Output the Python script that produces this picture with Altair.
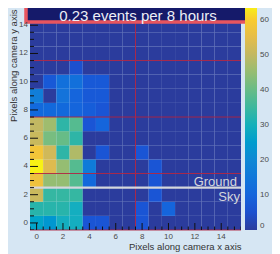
import altair as alt
import pandas as pd

# ---------------- data ----------------
x_pixels = list(range(16))
y_pixels = list(range(16))
# counts per camera row (y pixel), columns are x pixels 0..15
row_y00 = [27, 24, 29, 29, 6, 6, 0, 0, 6, 0, 0, 0, 0, 0, 0, 0]
row_y01 = [32, 32, 32, 29, 0, 0, 0, 0, 6, 0, 10, 0, 0, 0, 0, 0]
row_y02 = [51, 34, 34, 34, 0, 0, 0, 0, 0, 6, 0, 0, 0, 0, 0, 0]
row_y03 = [57, 45, 45, 38, 11, 0, 0, 0, 0, 6, 0, 0, 0, 0, 0, 0]
row_y04 = [64, 54, 45, 38, 16, 0, 0, 0, 0, 6, 0, 0, 0, 0, 0, 0]
row_y05 = [58, 52, 33, 48, 0, 6, 0, 0, 6, 0, 0, 0, 0, 0, 0, 0]
row_y06 = [51, 42, 40, 33, 0, 0, 0, 0, 0, 0, 0, 0, 0, 0, 0, 0]
row_y07 = [50, 46, 33, 38, 6, 10, 0, 0, 0, 0, 0, 0, 0, 0, 0, 0]
row_y08 = [11, 11, 11, 10, 8, 6, 0, 0, 0, 0, 0, 0, 0, 0, 0, 0]
row_y09 = [17, 0, 14, 10, 7, 7, 0, 0, 0, 0, 0, 0, 0, 0, 0, 0]
row_y10 = [0, 7, 13, 13, 7, 7, 0, 0, 0, 0, 0, 0, 0, 0, 0, 0]
row_y11 = [0, 0, 0, 5, 0, 0, 0, 0, 0, 0, 0, 0, 0, 0, 0, 0]
row_y12 = [0] * 16
row_y13 = [0] * 16
row_y14 = [0] * 16
row_y15 = [0] * 16
rows = [row_y00, row_y01, row_y02, row_y03, row_y04, row_y05, row_y06, row_y07,
        row_y08, row_y09, row_y10, row_y11, row_y12, row_y13, row_y14, row_y15]

tick_labels_x = [0, 2, 4, 6, 8, 10, 12, 14]
tick_labels_y = [0, 2, 4, 6, 8, 10, 12, 14]
minor_ticks = [v / 2 for v in range(-1, 32) if v % 4 != 0]
colorbar_labels = [0, 10, 20, 30, 40, 50, 60]
region_rows = [-0.5, 3.5, 7.5, 11.5]
region_cols = [7.5]
ground_sky_row = 2.5
title_text = "0.23 events per 8 hours"

# colour palette (ROOT bird-like)
c_stops = [0, 4, 6, 10, 14, 18, 22, 26, 29, 32, 35, 38, 42, 46, 50, 53, 56, 60, 62, 64.5]
c_colors = ["#2b3c9d", "#1d4cc8", "#1a55d5", "#1565dc", "#1473da", "#1582d7",
            "#118dd3", "#0ea0cc", "#14aec0", "#28b4ab", "#3cb89e", "#55bb90",
            "#78bd80", "#9fbc6e", "#c2b862", "#d8b955", "#ecbf42", "#f9cb2e",
            "#f8dc20", "#f8f812"]

cells_df = pd.DataFrame(
    [{"px": x, "py": y, "count": rows[y][x]} for y in y_pixels for x in x_pixels]
)

# ---------------- chart ----------------
W, H = 211, 222
FONT = "Liberation Sans"
LABEL_COLOR = "#4a4a4a"
xs = alt.Scale(domain=[-0.5, 15.5], nice=False, zero=False)
ys = alt.Scale(domain=[-0.5, 15.22], nice=False, zero=False)
cs = alt.Scale(domain=c_stops, range=c_colors)

axis_common = dict(
    ticks=False, domain=False, grid=False, labels=False,
    titleFont=FONT, titleFontSize=9.5, titleFontWeight="normal",
    titleColor="#333333",
)

cells = alt.Chart(cells_df).transform_calculate(
    x0="datum.px - 0.5", x1="datum.px + 0.5",
    y0="datum.py - 0.5", y1="datum.py + 0.5",
).mark_rect(clip=True, strokeWidth=0).encode(
    x=alt.X("x0:Q", scale=xs, title="Pixels along camera x axis", axis=alt.Axis(
        titleX=W, titleY=16, titleAlign="right", titleBaseline="middle",
        **axis_common)),
    x2="x1:Q",
    y=alt.Y("y0:Q", scale=ys, title="Pixels along camera y axis", axis=alt.Axis(
        titleAngle=270, titleAlign="right", titleBaseline="middle",
        titleX=-17, titleY=1, **axis_common)),
    y2="y1:Q",
    color=alt.Color("count:Q", scale=cs, legend=alt.Legend(
        type="gradient", orient="none", legendX=215, legendY=-4,
        direction="vertical", gradientLength=226, gradientThickness=12,
        values=colorbar_labels, title=None, labelFont=FONT, labelFontSize=8,
        labelColor=LABEL_COLOR, labelOffset=3, gradientStrokeWidth=0,
        labelOverlap=False)),
)

hlines = alt.Chart(pd.DataFrame({"v": region_rows})).mark_rule(
    color="#b0213f", strokeWidth=1, opacity=0.9).encode(
    y=alt.Y("v:Q", scale=ys))
vlines = alt.Chart(pd.DataFrame({"v": region_cols})).mark_rule(
    color="#b0213f", strokeWidth=1, opacity=0.9).encode(
    x=alt.X("v:Q", scale=xs))

ground = alt.Chart(pd.DataFrame({"v": [ground_sky_row]})).mark_rule(
    color="#d4d6dc", strokeWidth=2.2).encode(y=alt.Y("v:Q", scale=ys))
ground_txt = alt.Chart(pd.DataFrame({"v": [ground_sky_row]})).mark_text(
    text="Ground", align="right", baseline="alphabetic", dy=-2,
    font=FONT, fontSize=13, color="#d4d6dc").encode(
    x=alt.value(207), y=alt.Y("v:Q", scale=ys))
sky_txt = alt.Chart(pd.DataFrame({"v": [ground_sky_row]})).mark_text(
    text="Sky", align="right", baseline="alphabetic", dy=13,
    font=FONT, fontSize=13, color="#d4d6dc").encode(
    x=alt.value(210), y=alt.Y("v:Q", scale=ys))

# tick marks drawn inside the frame, ROOT style
major_y = alt.Chart(pd.DataFrame({"v": tick_labels_y})).mark_rule(
    color="#111111", strokeWidth=1).encode(
    y=alt.Y("v:Q", scale=ys), x=alt.value(0), x2=alt.value(8))
minor_y = alt.Chart(pd.DataFrame({"v": minor_ticks})).mark_rule(
    color="#111111", strokeWidth=1, clip=True).encode(
    y=alt.Y("v:Q", scale=ys), x=alt.value(0), x2=alt.value(4))
major_x = alt.Chart(pd.DataFrame({"v": tick_labels_x})).mark_rule(
    color="#111111", strokeWidth=1).encode(
    x=alt.X("v:Q", scale=xs), y=alt.value(H), y2=alt.value(H - 7))
minor_x = alt.Chart(pd.DataFrame({"v": minor_ticks})).mark_rule(
    color="#111111", strokeWidth=1, clip=True).encode(
    x=alt.X("v:Q", scale=xs), y=alt.value(H), y2=alt.value(H - 3.5))

# tick labels
xlab = alt.Chart(pd.DataFrame({"v": tick_labels_x})).mark_text(
    align="center", baseline="top", dy=3, font=FONT, fontSize=8,
    color=LABEL_COLOR).encode(
    x=alt.X("v:Q", scale=xs), y=alt.value(H), text=alt.Text("v:Q"))
ylab = alt.Chart(pd.DataFrame({"v": tick_labels_y})).mark_text(
    align="right", baseline="middle", dx=-2, font=FONT, fontSize=8,
    color=LABEL_COLOR).encode(
    y=alt.Y("v:Q", scale=ys), x=alt.value(0), text=alt.Text("v:Q"))

title_box = alt.Chart(pd.DataFrame({"t": [title_text]})).mark_rect(
    fill="#151a6a", stroke="#e8555f", strokeWidth=3.5).encode(
    x=alt.value(-4), x2=alt.value(220), y=alt.value(-20), y2=alt.value(14))
title_txt = alt.Chart(pd.DataFrame({"t": [title_text]})).mark_text(
    align="center", baseline="alphabetic", font=FONT, fontSize=15,
    color="#eceef6").encode(text="t:N", x=alt.value(108), y=alt.value(12.5))

chart = alt.layer(
    cells, hlines, vlines, ground, ground_txt, sky_txt,
    major_y, minor_y, major_x, minor_x, title_box, title_txt, xlab, ylab,
).properties(
    width=W, height=H,
    autosize=alt.AutoSizeParams(type="none"),
    padding={"left": 22, "top": 0, "right": 31, "bottom": 24},
    background="#d6e6f3",
).configure_view(stroke=None)

chart.save("out.html", embed_options={"renderer": "svg", "actions": False})
